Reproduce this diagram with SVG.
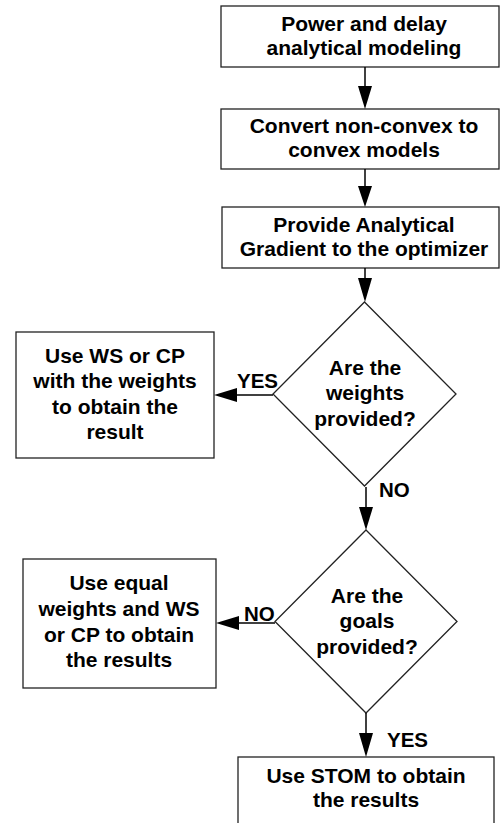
<svg xmlns="http://www.w3.org/2000/svg" width="500" height="823" viewBox="0 0 500 823">
<style>
.box{fill:#fff;stroke:#222;stroke-width:1.3}
.t{font-family:"Liberation Sans",Arial,sans-serif;font-weight:bold;font-size:21px;fill:#000;text-anchor:middle}
.lbl{font-family:"Liberation Sans",Arial,sans-serif;font-weight:bold;font-size:20.5px;fill:#000}
.c{stroke:#000;stroke-width:1.5;fill:none}
.h{fill:#000}
</style>
<rect width="500" height="823" fill="#fff"/>
<g id="n1"><rect class="box" x="221" y="6" width="278" height="61"/>
<text class="t" x="364" y="31">Power and delay</text><text class="t" x="364" y="55">analytical modeling</text></g>
<g id="n2"><rect class="box" x="221" y="109" width="278" height="60"/>
<text class="t" x="364" y="133">Convert non-convex to</text><text class="t" x="364" y="157">convex models</text></g>
<g id="n3"><rect class="box" x="222" y="207" width="277" height="61"/>
<text class="t" x="364" y="232">Provide Analytical</text><text class="t" x="364" y="256">Gradient to the optimizer</text></g>
<g id="d1"><polygon class="box" points="364.5,302 456,394 364.5,486 273,394"/>
<text class="t" x="365" y="375">Are the</text><text class="t" x="365" y="400">weights</text><text class="t" x="365" y="426">provided?</text></g>
<g id="n4"><rect class="box" x="16" y="332" width="198" height="126"/>
<text class="t" x="115" y="363">Use WS or CP</text><text class="t" x="115" y="388">with the weights</text><text class="t" x="115" y="414">to obtain the</text><text class="t" x="115" y="439">result</text></g>
<g id="d2"><polygon class="box" points="366,530 457,621.5 366,713 275,621.5"/>
<text class="t" x="367" y="603">Are the</text><text class="t" x="367" y="628">goals</text><text class="t" x="367" y="654">provided?</text></g>
<g id="n5"><rect class="box" x="23" y="559" width="193" height="129"/>
<text class="t" x="119" y="590">Use equal</text><text class="t" x="119" y="616">weights and WS</text><text class="t" x="119" y="642">or CP to obtain</text><text class="t" x="119" y="667">the results</text></g>
<g id="n6"><rect class="box" x="238" y="757" width="256" height="80"/>
<text class="t" x="366" y="783">Use STOM to obtain</text><text class="t" x="366" y="807">the results</text></g>
<g id="connectors">
<line class="c" x1="365" y1="67" x2="365" y2="88"/><polygon class="h" points="358,86 372,86 365,109"/>
<line class="c" x1="365" y1="169" x2="365" y2="188"/><polygon class="h" points="358,186 372,186 365,207"/>
<line class="c" x1="365" y1="268" x2="365" y2="280"/><polygon class="h" points="358,278 372,278 365,302"/>
<line class="c" x1="273" y1="395" x2="235" y2="395"/><polygon class="h" points="237,388 237,402 214,395"/>
<text class="lbl" x="237" y="388">YES</text>
<line class="c" x1="366" y1="487" x2="366" y2="510"/><polygon class="h" points="359,507 373,507 366,530"/>
<text class="lbl" x="379" y="497">NO</text>
<line class="c" x1="275" y1="623" x2="237" y2="623"/><polygon class="h" points="239,616 239,630 216,623"/>
<text class="lbl" x="244" y="621">NO</text>
<line class="c" x1="366" y1="713" x2="366" y2="736"/><polygon class="h" points="359,733 373,733 366,757"/>
<text class="lbl" x="387" y="747">YES</text>
</g>
</svg>
